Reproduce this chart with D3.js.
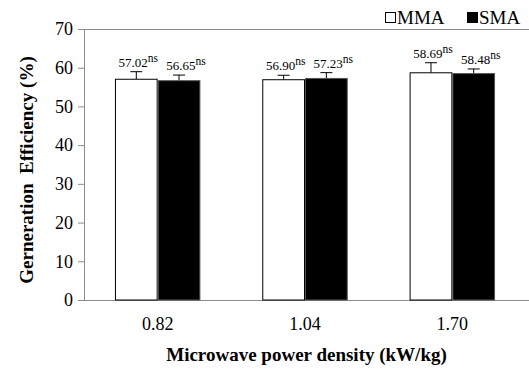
<!DOCTYPE html>
<html>
<head>
<meta charset="utf-8">
<script src="https://cdn.jsdelivr.net/npm/d3@7"></script>
<style>
  body { margin: 0; background: #fff; }
</style>
</head>
<body>
<div id="chart"></div>
<script>
let categories = ["0.82", "1.04", "1.70"];
let series_names = ["MMA", "SMA"];
let mma_values = [57.02, 56.90, 58.69];
let sma_values = [56.65, 57.23, 58.48];
let mma_errors = [1.95, 1.15, 2.6];
let sma_errors = [1.45, 1.5, 1.2];
let sig_labels = ["ns", "ns", "ns"];
let y_ticks = [0, 10, 20, 30, 40, 50, 60, 70];

let serif = "'Liberation Serif', 'Times New Roman', Times, serif";

let chart_width = 529;
let chart_height = 370;

let margin_top = 29;
let margin_right = 3;
let margin_bottom = 70;
let margin_left = 84;

let width = chart_width - margin_left - margin_right;
let height = chart_height - margin_top - margin_bottom;

let svg = d3.select("#chart")
            .append("svg")
            .attr("width", chart_width)
            .attr("height", chart_height)
            .attr("font-family", serif);

let g = svg.append("g")
           .attr("transform", "translate(" + margin_left + "," + margin_top + ")");

let xScale = d3.scaleBand()
               .domain(categories)
               .range([0, width])
               .paddingInner(0.42)
               .paddingOuter(0.21);

let xSub = d3.scaleBand()
             .domain(series_names)
             .range([0, xScale.bandwidth()]);

let yScale = d3.scaleLinear()
               .domain([0, 70])
               .range([height, 0]);

// frame: top line + left axis
g.append("line")
 .attr("x1", 0).attr("x2", width + margin_right)
 .attr("y1", 0.5).attr("y2", 0.5)
 .attr("stroke", "#8c8c8c");

let y_axis = g.append("g")
              .call(d3.axisLeft(yScale).tickValues(y_ticks).tickSize(6).tickSizeOuter(0).tickPadding(5));
y_axis.select(".domain").attr("stroke", "#8c8c8c");
y_axis.selectAll(".tick line").attr("stroke", "#8c8c8c");
y_axis.selectAll(".tick text")
      .attr("font-size", "18px")
      .attr("fill", "#000");

let x_axis = g.append("g")
              .attr("transform", "translate(0," + height + ")")
              .call(d3.axisBottom(xScale).tickSize(0).tickSizeOuter(0).tickPadding(17));
x_axis.select(".domain").attr("stroke", "#8c8c8c").attr("d", "M0,0.5H" + (width + margin_right));
x_axis.selectAll(".tick text")
      .attr("font-size", "18px")
      .attr("fill", "#000");

let data = [];
for (let i = 0; i < categories.length; i++) {
    data.push({cat: categories[i], name: "MMA", value: mma_values[i], err: mma_errors[i], sig: sig_labels[i]});
    data.push({cat: categories[i], name: "SMA", value: sma_values[i], err: sma_errors[i], sig: sig_labels[i]});
}

function bar_x(d) { return xScale(d.cat) + xSub(d.name); }

// error bars (upper only)
let err = g.selectAll(".err").data(data).enter().append("g").attr("class", "err");
err.append("line")
   .attr("x1", d => bar_x(d) + xSub.bandwidth() / 2)
   .attr("x2", d => bar_x(d) + xSub.bandwidth() / 2)
   .attr("y1", d => yScale(d.value))
   .attr("y2", d => yScale(d.value + d.err))
   .attr("stroke", "#000");
err.append("line")
   .attr("x1", d => bar_x(d) + xSub.bandwidth() / 2 - 6)
   .attr("x2", d => bar_x(d) + xSub.bandwidth() / 2 + 6)
   .attr("y1", d => yScale(d.value + d.err))
   .attr("y2", d => yScale(d.value + d.err))
   .attr("stroke", "#000");

g.selectAll(".bar")
 .data(data)
 .enter()
 .append("rect")
 .attr("class", "bar")
 .attr("x", d => bar_x(d) + 0.5)
 .attr("y", d => yScale(d.value))
 .attr("width", xSub.bandwidth() - 1)
 .attr("height", d => height - yScale(d.value))
 .attr("fill", d => d.name === "MMA" ? "#fff" : "#000")
 .attr("stroke", d => d.name === "MMA" ? "#000" : "#555")
 .attr("stroke-width", 1);

// value labels
let lbl = g.selectAll(".val")
           .data(data)
           .enter()
           .append("text")
           .attr("class", "val")
           .attr("x", d => bar_x(d) + xSub.bandwidth() / 2 + (d.name === "MMA" ? 2 : 7))
           .attr("y", d => yScale(d.value + d.err) - 5)
           .attr("text-anchor", "middle")
           .attr("font-size", "13px")
           .attr("fill", "#000");
lbl.append("tspan").text(d => d.value.toFixed(2));
lbl.append("tspan")
   .attr("dy", -5)
   .attr("font-size", "11.5px")
   .text(d => d.sig);

// axis titles
svg.append("text")
   .attr("x", margin_left + (width + margin_right) / 2)
   .attr("y", 361)
   .attr("text-anchor", "middle")
   .attr("font-size", "19px")
   .attr("font-weight", "bold")
   .text("Microwave power density (kW/kg)");

svg.append("text")
   .attr("transform", "translate(33,170) rotate(-90)")
   .attr("text-anchor", "middle")
   .attr("font-size", "19px")
   .attr("font-weight", "bold")
   .style("white-space", "pre")
   .text("Gerneration  Efficiency (%)");

// legend
let legend_x = [385, 467];
let legend = svg.selectAll(".legend")
                .data(series_names)
                .enter()
                .append("g")
                .attr("class", "legend")
                .attr("transform", (d, i) => "translate(" + legend_x[i] + ",0)");
legend.append("rect")
      .attr("x", 0.5).attr("y", 12.5)
      .attr("width", 10).attr("height", 10)
      .attr("fill", (d, i) => i === 0 ? "#fff" : "#000")
      .attr("stroke", "#000");
legend.append("text")
      .attr("x", 12)
      .attr("y", 24)
      .attr("font-size", "19px")
      .text(d => d);

svg.selectAll("text").style("font-family", serif);
</script>
</body>
</html>
